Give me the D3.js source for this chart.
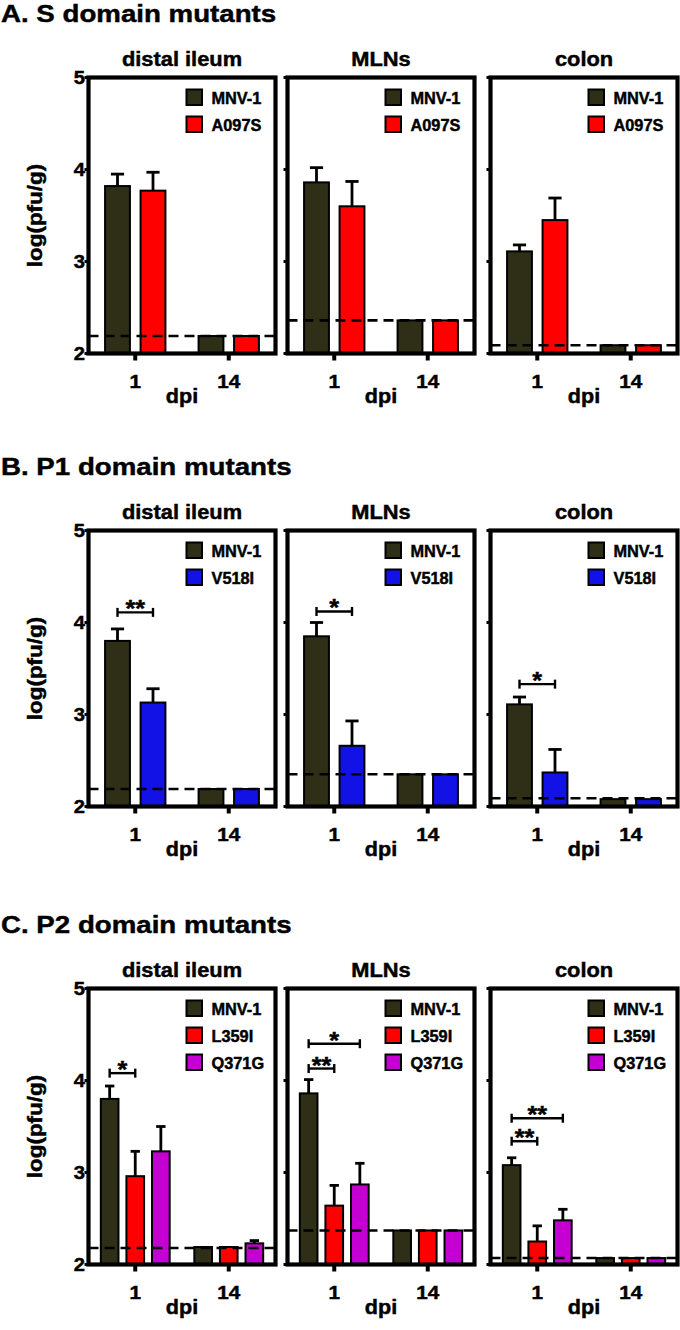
<!DOCTYPE html>
<html><head><meta charset="utf-8">
<script src="https://cdn.jsdelivr.net/npm/d3@7"></script>
<style>
html,body{margin:0;padding:0;background:#fff;}
text{font-family:"Liberation Sans",Arial,Helvetica,sans-serif;font-weight:bold;fill:#000;stroke:#000;stroke-width:0.45px;}
</style></head>
<body><svg id="c" width="680" height="1330"></svg>
<script>
// ---------- data ----------
const organs = ["distal ileum", "MLNs", "colon"];
const dpi = ["1", "14"];
const yTicks = [2, 3, 4, 5];

const titleA = "A. S domain mutants";
const seriesA = ["MNV-1", "A097S"];
const lodA = [2.19, 2.36, 2.09];
// [organ][dpi][series]
const meanA = [[[3.82, 3.77], [2.19, 2.19]], [[3.86, 3.60], [2.36, 2.36]], [[3.11, 3.45], [2.09, 2.09]]];
const errA  = [[[3.95, 3.97], [null, null]], [[4.02, 3.87], [null, null]], [[3.18, 3.69], [null, null]]];
const sigA = [];

const titleB = "B. P1 domain mutants";
const seriesB = ["MNV-1", "V518I"];
const lodB = [2.19, 2.35, 2.09];
const meanB = [[[3.80, 3.13], [2.19, 2.19]], [[3.85, 2.66], [2.35, 2.35]], [[3.11, 2.37], [2.08, 2.08]]];
const errB  = [[[3.93, 3.28], [null, null]], [[4.00, 2.93], [null, null]], [[3.19, 2.62], [null, null]]];
// [organ, from series, to series, level, label]
const sigB = [[0, 0, 1, 4.11, "**"], [1, 0, 1, 4.12, "*"], [2, 0, 1, 3.33, "*"]];

const titleC = "C. P2 domain mutants";
const seriesC = ["MNV-1", "L359I", "Q371G"];
const lodC = [2.18, 2.37, 2.07];
const meanC = [[[3.80, 2.96, 3.23], [2.19, 2.19, 2.23]], [[3.86, 2.64, 2.87], [2.37, 2.37, 2.37]], [[3.08, 2.25, 2.48], [2.07, 2.07, 2.07]]];
const errC  = [[[3.94, 3.23, 3.50], [null, null, 2.26]], [[4.01, 2.86, 3.10], [null, null, null]], [[3.16, 2.42, 2.60], [null, null, null]]];
const sigC = [[0, 0, 1, 4.08, "*"], [1, 0, 1, 4.13, "**"], [1, 0, 2, 4.40, "*"], [2, 0, 1, 3.34, "**"], [2, 0, 2, 3.59, "**"]];

const colors = {"MNV-1": "#2f2f17", "A097S": "#ff0000", "V518I": "#1212e6", "L359I": "#ff0000", "Q371G": "#c400d2"};

// ---------- layout ----------
const svg = d3.select("#c");
const frameX = [88.5, 287.5, 490.5];
const frameW = 187;
const frameH = 276;
const panels = [
  {title: titleA, series: seriesA, lod: lodA, mean: meanA, err: errA, sig: sigA, top: 77.5},
  {title: titleB, series: seriesB, lod: lodB, mean: meanB, err: errB, sig: sigB, top: 530.5},
  {title: titleC, series: seriesC, lod: lodC, mean: meanC, err: errC, sig: sigC, top: 988.5}
];

function stext(g, x, y, str, size, sx, anchor, rot) {
  const t = g.append("g").attr("transform", `translate(${x},${y})` + (rot ? ` rotate(${rot})` : "") + ` scale(${sx},1)`)
    .append("text").attr("font-size", size).attr("text-anchor", anchor || "start").text(str);
  return t;
}

panels.forEach(p => {
  const g = svg.append("g");
  stext(g, 1, p.top - 56, p.title, 24.5, 1.13, "start");
  const n = p.series.length;
  const step = n === 2 ? 35.5 : 25.6;
  const W = step * n;
  const pad = n === 2 ? 0.3 : 0.31;

  organs.forEach((org, oi) => {
    const x0 = frameX[oi];
    const og = g.append("g").attr("transform", `translate(${x0},0)`);
    const y = d3.scaleLinear().domain([2, 5]).range([p.top + frameH, p.top]);
    const xg = d3.scaleBand().domain(dpi).range([0, frameW]).padding(0);
    const xs = d3.scaleBand().domain(p.series).range([-W / 2, W / 2]).paddingInner(pad).paddingOuter(pad / 2);
    const bw = xs.bandwidth();
    const cx = (d, s) => xg(d) + xg.bandwidth() / 2 + xs(s) + bw / 2;

    // subtitle
    stext(og, frameW / 2, p.top - 12, org, 19.5, 1.12, "middle");

    // bars
    dpi.forEach((d, di) => {
      p.series.forEach((s, si) => {
        const v = p.mean[oi][di][si];
        og.append("rect")
          .attr("x", cx(d, s) - bw / 2).attr("y", y(v))
          .attr("width", bw).attr("height", y(2) - y(v))
          .attr("fill", colors[s]).attr("stroke", "#000").attr("stroke-width", 2);
        const e = p.err[oi][di][si];
        if (e != null) {
          const cap = bw * 0.53;
          og.append("line").attr("x1", cx(d, s)).attr("x2", cx(d, s)).attr("y1", y(v)).attr("y2", y(e))
            .attr("stroke", "#000").attr("stroke-width", 2.8);
          og.append("line").attr("x1", cx(d, s) - cap / 2).attr("x2", cx(d, s) + cap / 2).attr("y1", y(e)).attr("y2", y(e))
            .attr("stroke", "#000").attr("stroke-width", 2.8);
        }
      });
    });

    // detection limit
    og.append("line").attr("x1", 0).attr("x2", frameW).attr("y1", y(p.lod[oi])).attr("y2", y(p.lod[oi]))
      .attr("stroke", "#000").attr("stroke-width", 2.6).attr("stroke-dasharray", "10,6");

    // significance brackets
    p.sig.filter(s => s[0] === oi).forEach(s => {
      const xa = cx(dpi[0], p.series[s[1]]), xb = cx(dpi[0], p.series[s[2]]);
      const yy = y(s[3]);
      og.append("line").attr("x1", xa).attr("x2", xb).attr("y1", yy).attr("y2", yy).attr("stroke", "#000").attr("stroke-width", 2.4);
      [xa, xb].forEach(xx => og.append("line").attr("x1", xx).attr("x2", xx).attr("y1", yy - 4.5).attr("y2", yy + 4.5)
        .attr("stroke", "#000").attr("stroke-width", 2.4));
      stext(og, (xa + xb) / 2, yy + 5, s[4], 24, 1.05, "middle");
    });

    // frame
    og.append("rect").attr("x", 0).attr("y", p.top).attr("width", frameW).attr("height", frameH)
      .attr("fill", "none").attr("stroke", "#000").attr("stroke-width", 4.2);

    // y ticks
    yTicks.forEach(t => {
      og.append("line").attr("x1", -4).attr("x2", 0).attr("y1", y(t)).attr("y2", y(t)).attr("stroke", "#000").attr("stroke-width", 3);
      if (oi === 0) {
        stext(og, -3.5, y(t) + 6.5, String(t), 18, 1.12, "end");
      }
    });

    // x ticks
    dpi.forEach(d => {
      const xx = xg(d) + xg.bandwidth() / 2;
      og.append("line").attr("x1", xx).attr("x2", xx).attr("y1", p.top + frameH).attr("y2", p.top + frameH + 7)
        .attr("stroke", "#000").attr("stroke-width", 4);
      stext(og, xx, p.top + frameH + 34, d, 18, 1.15, "middle");
    });
    stext(og, frameW / 2, p.top + frameH + 49, "dpi", 20, 1.08, "middle");

    // legend
    const lx = frameW - 89, ly = p.top + 12;
    p.series.forEach((s, si) => {
      og.append("rect").attr("x", lx).attr("y", ly + si * 27).attr("width", 15.5).attr("height", 15.5)
        .attr("fill", colors[s]).attr("stroke", "#000").attr("stroke-width", 2);
      stext(og, lx + 25, ly + si * 27 + 14, s, 16, 1.02, "start");
    });

    if (oi === 0) {
      stext(og, -47, p.top + frameH / 2, "log(pfu/g)", 19.5, 1.15, "middle", -90);
    }
  });
});
</script></body></html>
